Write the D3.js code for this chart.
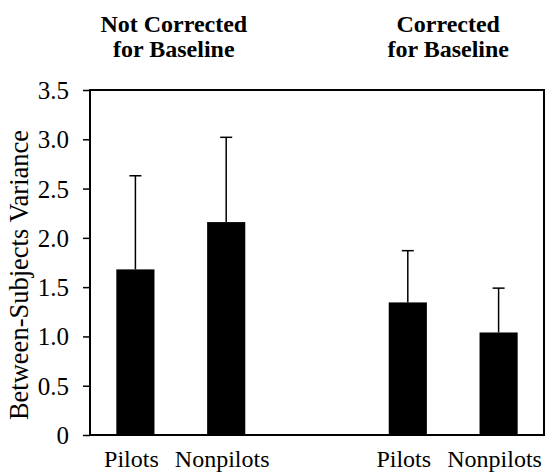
<!DOCTYPE html>
<html>
<head>
<meta charset="utf-8">
<script src="https://cdn.jsdelivr.net/npm/d3@7"></script>
<style>
  body { margin: 0; background: #fff; }
</style>
</head>
<body>
<svg id="chart" width="546" height="472"></svg>
<script>
// data
const groupTitles = [["Not Corrected", "for Baseline"], ["Corrected", "for Baseline"]];
const slots = ["nc-pilots", "nc-nonpilots", "gap", "c-pilots", "c-nonpilots"];
const barSlots = ["nc-pilots", "nc-nonpilots", "c-pilots", "c-nonpilots"];
const barLabels = ["Pilots", "Nonpilots", "Pilots", "Nonpilots"];
const means = [1.68, 2.16, 1.345, 1.04];
const errUp = [0.95, 0.86, 0.525, 0.45];
const yTicks = [0, 0.5, 1.0, 1.5, 2.0, 2.5, 3.0, 3.5];
const yTitle = "Between-Subjects Variance";

const serif = "'Liberation Serif', 'DejaVu Serif', serif";
const width = 546, height = 472;
const margin = {top: 90, right: 2, bottom: 37, left: 90};

const svg = d3.select("#chart");

const x = d3.scaleBand()
    .domain(slots)
    .range([margin.left, width - margin.right])
    .paddingInner(0.58)
    .paddingOuter(0.29);

const y = d3.scaleLinear()
    .domain([0, 3.5])
    .range([height - margin.bottom, margin.top]);

const bars = barSlots.map((s, i) => ({slot: s, label: barLabels[i], mean: means[i], err: errUp[i]}));

// bars
svg.selectAll(".bar")
    .data(bars)
    .enter().append("rect")
    .attr("class", "bar")
    .attr("x", d => x(d.slot))
    .attr("y", d => y(d.mean))
    .attr("width", x.bandwidth())
    .attr("height", d => y(0) - y(d.mean))
    .attr("fill", "#000");

// error bars (upper only)
const cx = d => x(d.slot) + x.bandwidth() / 2;
svg.selectAll(".err")
    .data(bars)
    .enter().append("line")
    .attr("x1", cx).attr("x2", cx)
    .attr("y1", d => y(d.mean))
    .attr("y2", d => y(d.mean + d.err))
    .attr("stroke", "#000")
    .attr("stroke-width", 1.5);

svg.selectAll(".cap")
    .data(bars)
    .enter().append("line")
    .attr("x1", d => cx(d) - 6).attr("x2", d => cx(d) + 6)
    .attr("y1", d => y(d.mean + d.err))
    .attr("y2", d => y(d.mean + d.err))
    .attr("stroke", "#000")
    .attr("stroke-width", 1.5);

// frame
svg.append("rect")
    .attr("x", margin.left)
    .attr("y", margin.top)
    .attr("width", width - margin.right - margin.left)
    .attr("height", y(0) - margin.top)
    .attr("fill", "none")
    .attr("stroke", "#000")
    .attr("stroke-width", 2);

// y axis
const yAxis = d3.axisLeft(y)
    .tickValues(yTicks)
    .tickSize(7)
    .tickPadding(14)
    .tickFormat(d => d === 0 ? "0" : d3.format(".1f")(d));

const gy = svg.append("g")
    .attr("transform", `translate(${margin.left},0)`)
    .call(yAxis);
gy.select(".domain").remove();
gy.selectAll(".tick line").attr("stroke", "#000").attr("stroke-width", 1.5);
gy.selectAll(".tick text")
    .style("font-family", serif)
    .style("font-size", "25px")
    .attr("fill", "#000")
    .attr("dy", "0.34em");

// y title
svg.append("text")
    .attr("transform", "translate(28,275) rotate(-90)")
    .attr("text-anchor", "middle")
    .style("font-family", serif)
    .style("font-size", "26.5px")
    .text(yTitle);

// category labels
svg.selectAll(".cat")
    .data(bars)
    .enter().append("text")
    .attr("x", d => cx(d) - 4)
    .attr("y", 467)
    .attr("text-anchor", "middle")
    .style("font-family", serif)
    .style("font-size", "24px")
    .text(d => d.label);

// group titles
const groupCenters = [
    (cx(bars[0]) + cx(bars[1])) / 2 - 7,
    (cx(bars[2]) + cx(bars[3])) / 2 - 5
];
groupTitles.forEach((lines, i) => {
    lines.forEach((t, j) => {
        svg.append("text")
            .attr("x", groupCenters[i])
            .attr("y", 32 + j * 25)
            .attr("text-anchor", "middle")
            .style("font-family", serif)
            .style("font-size", "24px")
            .style("font-weight", "bold")
            .text(t);
    });
});
</script>
</body>
</html>
